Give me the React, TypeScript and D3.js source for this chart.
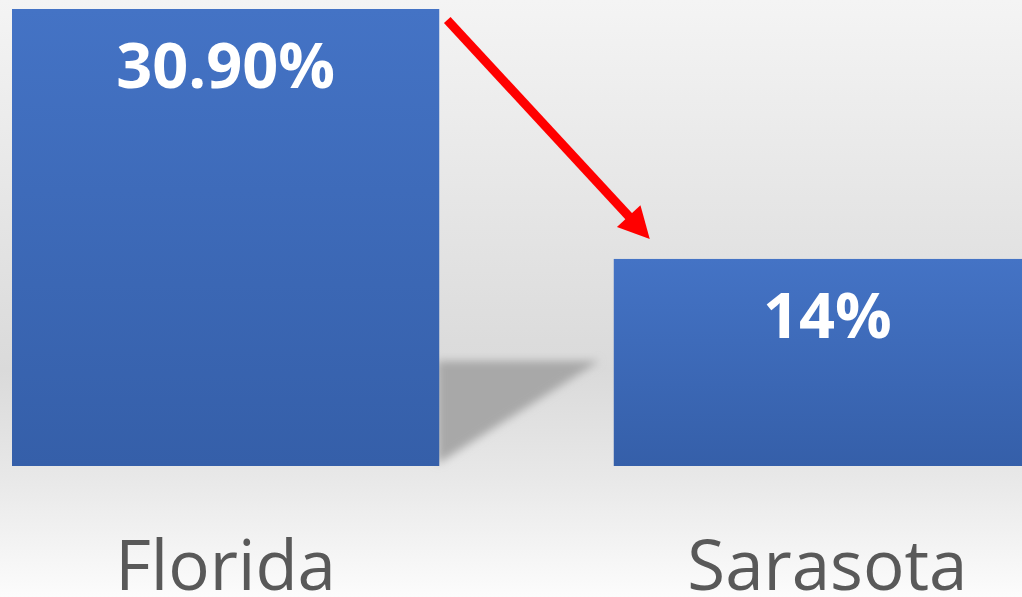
import React from "react";
import * as d3 from "d3";

const categories = ["Florida", "Sarasota"];
const values = [30.9, 14];
const valueLabels = ["30.90%", "14%"];

const W = 1022;
const H = 597;

export default function App() {
  const x = d3
    .scaleBand<string>()
    .domain(categories)
    .range([12, 1041])
    .paddingInner(0.29)
    .paddingOuter(0);
  const y = d3.scaleLinear().domain([0, 30.9]).range([466, 9]);
  const bw = x.bandwidth();

  const fx = x("Florida")!;
  const fTop = y(values[0]);
  const base = y(0);
  const sx = x("Sarasota")!;
  const sTop = y(values[1]);

  // arrow geometry
  const ax1 = fx + bw + 8;
  const ay1 = fTop + 11;
  const ax2 = sx + 36;
  const ay2 = sTop - 20;
  const ang = Math.atan2(ay2 - ay1, ax2 - ax1);
  const headLen = 31;
  const headHalf = 16;
  const bxm = ax2 - headLen * Math.cos(ang);
  const bym = ay2 - headLen * Math.sin(ang);
  const px = -Math.sin(ang);
  const py = Math.cos(ang);
  const head = [
    [ax2, ay2],
    [bxm + px * headHalf, bym + py * headHalf],
    [bxm - px * headHalf, bym - py * headHalf],
  ];

  const shadowPts = [
    [fx + bw - 2, base - 105],
    [fx + bw + 160, base - 105],
    [fx + bw - 2, base - 2],
  ];

  return (
    <svg
      width={W}
      height={H}
      style={{ position: "absolute", left: 0, top: 0 }}
    >
      <defs>
        <linearGradient id="bg" x1="0" y1="0" x2="0" y2="1">
          <stop offset="0%" stopColor="#f4f4f4" />
          <stop offset="62%" stopColor="#dadada" />
          <stop offset="80%" stopColor="#e8e8e8" />
          <stop offset="100%" stopColor="#fcfcfc" />
        </linearGradient>
        <linearGradient id="bar" x1="0" y1="0" x2="0" y2="1">
          <stop offset="0%" stopColor="#4473c5" />
          <stop offset="100%" stopColor="#355fa9" />
        </linearGradient>
        <filter id="blur" x="-20%" y="-20%" width="140%" height="140%">
          <feGaussianBlur stdDeviation="4" />
        </filter>
      </defs>
      <rect x={0} y={0} width={W} height={H} fill="url(#bg)" />
      <polygon
        points={shadowPts.map((p) => p.join(",")).join(" ")}
        fill="#a8a8a8"
        filter="url(#blur)"
      />
      {categories.map((c, i) => (
        <rect
          key={c}
          x={x(c)}
          y={y(values[i])}
          width={bw}
          height={base - y(values[i])}
          fill="url(#bar)"
        />
      ))}
      {categories.map((c, i) => (
        <text
          key={"v" + c}
          x={x(c)! + bw / 2}
          y={y(values[i]) + 79}
          textAnchor="middle"
          fill="#ffffff"
          fontFamily="'Open Sans', sans-serif"
          fontWeight={700}
          fontSize={63}
        >
          {valueLabels[i]}
        </text>
      ))}
      {categories.map((c) => (
        <text
          key={"c" + c}
          x={x(c)! + bw / 2}
          y={590}
          textAnchor="middle"
          fill="#595959"
          fontFamily="'Open Sans', sans-serif"
          fontSize={69}
        >
          {c}
        </text>
      ))}
      <line
        x1={ax1}
        y1={ay1}
        x2={bxm + 4 * Math.cos(ang)}
        y2={bym + 4 * Math.sin(ang)}
        stroke="#ff0000"
        strokeWidth={9}
      />
      <polygon
        points={head.map((p) => p.join(",")).join(" ")}
        fill="#ff0000"
      />
    </svg>
  );
}
